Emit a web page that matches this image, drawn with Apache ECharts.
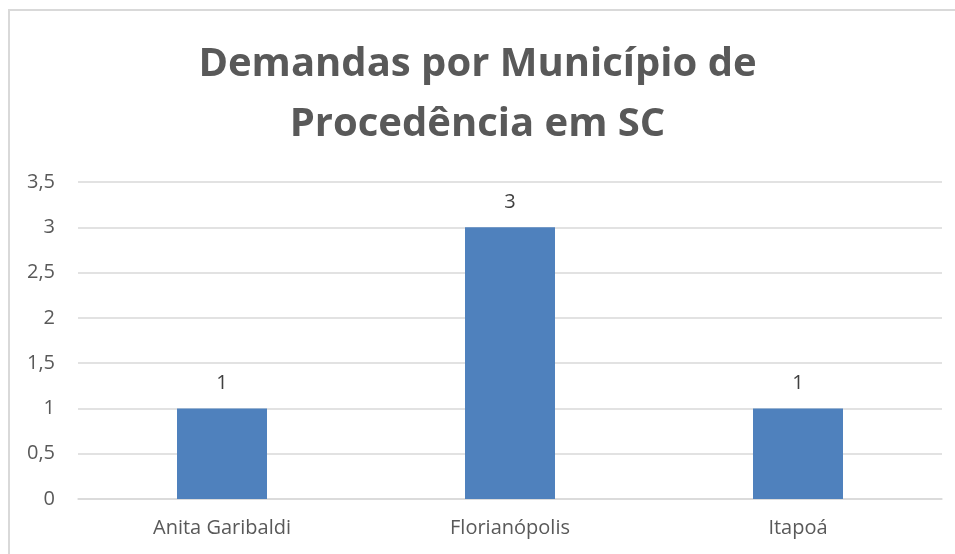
<!DOCTYPE html>
<html>
<head>
<meta charset="utf-8">
<script src="https://cdn.jsdelivr.net/npm/echarts@6/dist/echarts.min.js"></script>
<style>
    html, body { margin: 0; padding: 0; background: #fff; }
    #chart { width: 955px; height: 554px; }
</style>
</head>
<body>
<div id="chart"></div>
<script>
    const titleLines = ['Demandas por Município de', 'Procedência em SC'];
    const categories = ['Anita Garibaldi', 'Florianópolis', 'Itapoá'];
    const values = [1, 3, 1];

    const font = '"Open Sans", "Noto Sans", sans-serif';
    const textColor = '#595959';

    const myChart = echarts.init(document.getElementById('chart'));
    const option = {
        backgroundColor: '#fff',
        animation: false,
        title: {
            text: titleLines.join('\n'),
            left: 'center',
            top: 30,
            textStyle: {
                fontFamily: font,
                fontSize: 40,
                fontWeight: 'bold',
                color: textColor,
                lineHeight: 60
            }
        },
        graphic: [{
            type: 'rect',
            shape: { x: 9, y: 10, width: 1000, height: 600 },
            style: { fill: 'none', stroke: '#d9d9d9', lineWidth: 2 },
            silent: true
        }],
        grid: {
            left: 78,
            right: 13,
            top: 182,
            bottom: 55
        },
        xAxis: {
            type: 'category',
            data: categories,
            axisLine: { show: true, lineStyle: { color: '#d9d9d9', width: 1.5 } },
            axisTick: { show: false },
            axisLabel: {
                fontFamily: font,
                fontSize: 20,
                color: textColor,
                margin: 19
            }
        },
        yAxis: {
            type: 'value',
            min: 0,
            max: 3.5,
            interval: 0.5,
            axisLine: { show: false },
            axisTick: { show: false },
            splitLine: { lineStyle: { color: '#d9d9d9', width: 1.5 } },
            axisLabel: {
                fontFamily: font,
                fontSize: 20,
                color: textColor,
                margin: 23,
                formatter: v => String(v).replace('.', ',')
            }
        },
        series: [{
            type: 'bar',
            data: values,
            barWidth: 90,
            itemStyle: { color: '#4F81BD' },
            label: {
                show: true,
                position: 'top',
                distance: 15,
                fontFamily: font,
                fontSize: 20,
                color: '#404040'
            }
        }]
    };
    myChart.setOption(option);
</script>
</body>
</html>
